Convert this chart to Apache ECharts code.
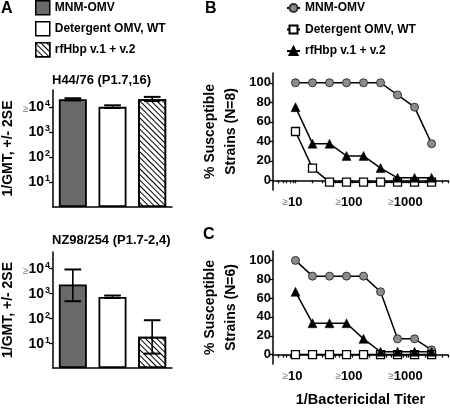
<!DOCTYPE html>
<html><head><meta charset="utf-8">
<script src="https://cdn.jsdelivr.net/npm/echarts@6/dist/echarts.min.js"></script>
<style>html,body{margin:0;padding:0;background:#fff}#c{width:450px;height:408px}</style>
</head><body><div id="c"></div>
<script>
// ---- data ----
const groups = ['MNM-OMV', 'Detergent OMV, WT', 'rfHbp v.1 + v.2'];
const h44Gmt = [20000, 10000, 20000];
const h44Low = [18000, 9000, 17000];
const h44High = [22000, 11500, 25000];
const nzGmt = [2300, 730, 18];
const nzLow = [490, 660, 3.8];
const nzHigh = [9300, 830, 84];
const titers = [10, 20, 40, 80, 160, 320, 640, 1280, 2560];
const bMnm = [100, 100, 100, 100, 100, 100, 87.5, 75, 37.5];
const bDet = [50, 12.5, -2, -2, -2, -2, -2, -2, -2];
const bRf = [75, 37.5, 37.5, 25, 25, 12.5, 2.5, 2.5, 2.5];
const cMnm = [100, 83.3, 83.3, 83.3, 83.3, 66.7, 16.7, 16.7, 5];
const cDet = [0, 0, 0, 0, 0, 0, 0, 0, 0];
const cRf = [66.7, 33.3, 33.3, 33.3, 16.7, 3, 3, 3, 3];
const gmtTicks = [10, 100, 1000, 10000];
const pctTicks = [0, 20, 40, 60, 80, 100];
const titerLabels = [10, 100, 1000];
const titerTicks = [5, 6, 7, 8, 9, 10, 20, 30, 40, 50, 60, 70, 80, 90, 100, 200, 300, 400, 500, 600, 700, 800, 900, 1000, 2000, 3000, 4000, 5000];

// ---- styles ----
const FONT = 'Liberation Sans, Arial, sans-serif';
const barStyles = [
  { color: '#6a6a6a', borderColor: '#000', borderWidth: 1.8 },
  { color: '#fff', borderColor: '#000', borderWidth: 1.8 },
  { color: '#fff', borderColor: '#000', borderWidth: 1.8,
    decal: { symbol: 'rect', symbolSize: 1, dashArrayX: [[1, 0]], dashArrayY: [1, 2.6], rotation: Math.PI / 4, color: '#000', backgroundColor: '#fff' } }
];
const lineSym = [
  { symbol: 'circle', symbolSize: 8, itemStyle: { color: '#8c8c8c', borderColor: '#333', borderWidth: 1 } },
  { symbol: 'rect', symbolSize: 8, itemStyle: { color: '#fff', borderColor: '#000', borderWidth: 1.3 } },
  { symbol: 'triangle', symbolSize: 9, itemStyle: { color: '#000', borderColor: '#000', borderWidth: 0.5 } }
];
const lineNames = groups.map(g => g + ' ');

const axLine = { show: true, lineStyle: { color: '#000', width: 1.5 } };
const tickStyle = (vals, len) => ({ show: true, inside: false, length: len, customValues: vals, lineStyle: { color: '#000', width: 1.3 } });

function gmtAxis(grid) {
  return {
    type: 'log', logBase: 10, gridIndex: grid, min: 1, max: 47000,
    name: '1/GMT, +/- 2SE', nameLocation: 'middle', nameGap: 38, nameRotate: 90,
    nameTextStyle: { fontFamily: FONT, fontWeight: 'bold', fontSize: 14, color: '#000' },
    axisLine: axLine, splitLine: { show: false },
    axisTick: tickStyle(gmtTicks, 4),
    axisLabel: {
      customValues: gmtTicks, margin: 3, fontFamily: FONT, color: '#000',
      formatter: v => {
        const e = Math.round(Math.log10(v));
        return (e === 4 ? '{g|≥}' : '') + '{b|10}{s|' + e + '}';
      },
      rich: {
        g: { fontSize: 10, color: '#777', fontFamily: FONT, lineHeight: 15, verticalAlign: 'bottom' },
        b: { fontSize: 14, fontWeight: 'bold', color: '#000', fontFamily: FONT, lineHeight: 15, verticalAlign: 'bottom' },
        s: { fontSize: 9, fontWeight: 'bold', color: '#000', fontFamily: FONT, lineHeight: 15, verticalAlign: 'top', padding: [0, 0, 0, 1] }
      }
    }
  };
}
function pctAxis(grid, name) {
  return {
    type: 'value', gridIndex: grid, min: -10, max: 110,
    name: name, nameLocation: 'middle', nameGap: 31, nameRotate: 90,
    nameTextStyle: { fontFamily: FONT, fontWeight: 'bold', fontSize: 14, color: '#000', lineHeight: 21 },
    axisLine: axLine, splitLine: { show: false },
    axisTick: tickStyle(pctTicks, 3),
    axisLabel: { customValues: pctTicks, margin: 2, fontFamily: FONT, fontWeight: 'bold', fontSize: 13, color: '#000' }
  };
}
function titerAxis(grid, name) {
  return {
    type: 'log', logBase: 10, gridIndex: grid, min: 4, max: 5000,
    name: name || '', nameLocation: 'middle', nameGap: 28,
    nameTextStyle: { fontFamily: FONT, fontWeight: 'bold', fontSize: 14.5, color: '#000' },
    axisLine: axLine, splitLine: { show: false },
    axisTick: tickStyle(titerTicks, 3),
    axisLabel: {
      customValues: titerLabels, margin: 6, fontFamily: FONT,
      formatter: v => '{g|≥}{b|' + v + '}{s| }',
      rich: {
        g: { fontSize: 10, color: '#777', fontFamily: FONT },
        b: { fontSize: 13, fontWeight: 'bold', color: '#000', fontFamily: FONT },
        s: { fontSize: 10, width: 6 }
      }
    }
  };
}
function catAxis(grid) {
  return {
    type: 'category', gridIndex: grid, data: groups,
    axisLine: axLine, axisTick: { show: false }, axisLabel: { show: false }
  };
}

function barSeries(vals, xi) {
  return groups.map((g, k) => ({
    type: 'bar', name: g, xAxisIndex: xi, yAxisIndex: xi,
    barWidth: 28, barGap: '-100%',
    data: vals.map((v, i) => (i === k ? v : '-')),
    itemStyle: barStyles[k], emphasis: { disabled: true }, z: 2
  }));
}
function errRender(params, api) {
  const i = api.value(0);
  const lo = api.coord([i, api.value(1)]);
  const hi = api.coord([i, api.value(2)]);
  const w = api.size([1, 0])[0] * 0.21;
  const st = { stroke: '#000', lineWidth: 1.6 };
  const st2 = { stroke: '#000', lineWidth: 2 };
  return { type: 'group', children: [
    { type: 'line', shape: { x1: lo[0], y1: lo[1], x2: hi[0], y2: hi[1] }, style: st },
    { type: 'line', shape: { x1: lo[0] - w, y1: lo[1], x2: lo[0] + w, y2: lo[1] }, style: st2 },
    { type: 'line', shape: { x1: hi[0] - w, y1: hi[1], x2: hi[0] + w, y2: hi[1] }, style: st2 }
  ] };
}
function errSeries(lo, hi, xi) {
  return {
    type: 'custom', xAxisIndex: xi, yAxisIndex: xi, renderItem: errRender, z: 5,
    encode: { x: 0, y: [1, 2] }, silent: true,
    data: groups.map((g, i) => [i, lo[i], hi[i]])
  };
}
function lineSeries(arrs, xi) {
  const order = [1, 0, 2];
  return order.map(k => Object.assign({
    type: 'line', name: lineNames[k], xAxisIndex: xi, yAxisIndex: xi,
    data: titers.map((t, i) => [t, arrs[k][i]]),
    lineStyle: { color: '#000', width: 1.5 }, emphasis: { disabled: true }, z: 3 + k
  }, lineSym[k]));
}

const titleStyle = { fontFamily: FONT, fontWeight: 'bold', color: '#000' };
const option = {
  animation: false,
  backgroundColor: '#fff',
  title: [
    { text: 'A', left: 1, top: 1, padding: 0, textStyle: Object.assign({ fontSize: 16 }, titleStyle) },
    { text: 'B', left: 205, top: 1, padding: 0, textStyle: Object.assign({ fontSize: 16 }, titleStyle) },
    { text: 'C', left: 203, top: 227, padding: 0, textStyle: Object.assign({ fontSize: 16 }, titleStyle) },
    { text: 'H44/76 (P1.7,16)', left: 52, top: 74, padding: 0, textStyle: Object.assign({ fontSize: 13 }, titleStyle) },
    { text: 'NZ98/254 (P1.7-2,4)', left: 52, top: 234, padding: 0, textStyle: Object.assign({ fontSize: 13 }, titleStyle) }
  ],
  legend: [
    { data: groups, orient: 'vertical', left: 35, top: 0, padding: 0, itemWidth: 14, itemHeight: 14, itemGap: 5.5,
      icon: 'rect', selectedMode: false,
      itemStyle: { borderColor: '#000', borderWidth: 1.5 },
      textStyle: { fontFamily: FONT, fontWeight: 'bold', fontSize: 12, color: '#000' } },
    { data: lineNames, orient: 'vertical', left: 286, top: 2, padding: 0, itemWidth: 13, itemHeight: 10, itemGap: 9.5,
      selectedMode: false, formatter: n => n.trim(),
      textStyle: { fontFamily: FONT, fontWeight: 'bold', fontSize: 12, color: '#000' } }
  ],
  grid: [
    { left: 52, top: 90, width: 120, height: 117 },
    { left: 52, top: 252, width: 120, height: 116 },
    { left: 273, top: 73, width: 175, height: 117 },
    { left: 273, top: 251, width: 175, height: 117 }
  ],
  xAxis: [catAxis(0), catAxis(1), titerAxis(2), titerAxis(3, '1/Bactericidal Titer')],
  yAxis: [gmtAxis(0), gmtAxis(1), pctAxis(2, '% Susceptible\nStrains (N=8)'), pctAxis(3, '% Susceptible\nStrains (N=6)')],
  series: [].concat(
    barSeries(h44Gmt, 0), [errSeries(h44Low, h44High, 0)],
    barSeries(nzGmt, 1), [errSeries(nzLow, nzHigh, 1)],
    lineSeries([bMnm, bDet, bRf], 2),
    lineSeries([cMnm, cDet, cRf], 3)
  )
};
const chart = echarts.init(document.getElementById('c'), null, { renderer: 'canvas' });
chart.setOption(option);
</script>
</body></html>
